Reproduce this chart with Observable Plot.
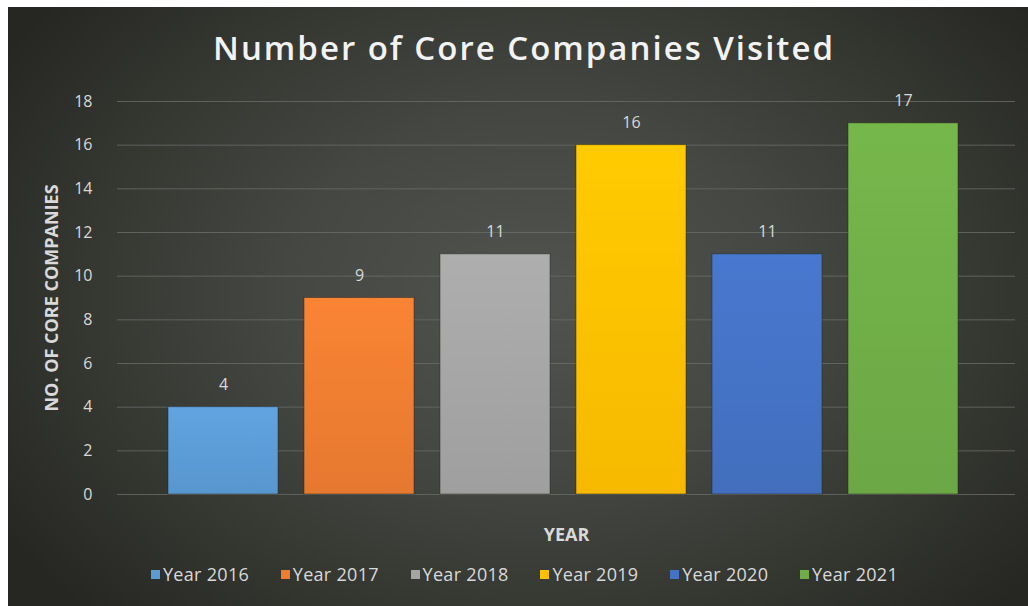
<!DOCTYPE html>
<html>
<head>
<meta charset="utf-8">
<script src="https://cdn.jsdelivr.net/npm/d3@7"></script>
<script src="https://cdn.jsdelivr.net/npm/@observablehq/plot@0.6"></script>
<style>
  html, body { margin: 0; padding: 0; background: #ffffff; width: 1028px; height: 606px; overflow: hidden;
    font-family: "Open Sans", "DejaVu Sans", sans-serif; }
  #frame {
    position: absolute; left: 8px; top: 7px; width: 1020px; height: 599px;
    background: radial-gradient(ellipse 62% 75% at 52% 48%, #51544e 0%, #454842 40%, #33352f 75%, #262723 100%);
  }
  #title {
    position: absolute; left: 10px; top: 25px; width: 1028px; text-align: center;
    color: #f2f2f2; font-size: 33px; font-weight: 600; letter-spacing: 2px;
  }
  #chart { position: absolute; left: 0; top: 0; }
  #legend {
    position: absolute; left: 151px; top: 562px; width: 877px;
    display: flex; justify-content: flex-start;
    color: #d9d9d9; font-size: 18px; letter-spacing: 0.3px;
  }
  .item { display: flex; align-items: center; width: 129.8px; flex: none; }
  .sw { width: 9px; height: 9px; margin-right: 3px; flex: none; }
  svg [aria-label="x-axis label"] text, svg [aria-label="y-axis label"] text { font-weight: bold; font-size: 18px; }
</style>
</head>
<body>
<div id="frame"></div>
<div id="title">Number of Core Companies Visited</div>
<div id="chart"></div>
<div id="legend"></div>
<script>
const years = ["Year 2016", "Year 2017", "Year 2018", "Year 2019", "Year 2020", "Year 2021"];
const counts = [4, 9, 11, 16, 11, 17];
const colors = ["#5b9bd5", "#ed7d31", "#a5a5a5", "#ffc000", "#4472c4", "#70ad47"];
const yTicks = [0, 2, 4, 6, 8, 10, 12, 14, 16, 18];

const data = years.map((y, i) => ({year: y, count: counts[i]}));

const chart = Plot.plot({
  width: 1028,
  height: 560,
  marginTop: 101,
  marginBottom: 66,
  marginLeft: 117,
  marginRight: 13,
  style: {background: "transparent", fontFamily: "'Open Sans', sans-serif", fontSize: "16px", color: "#d9d9d9"},
  x: {domain: years, range: [167, 958], paddingInner: 0.1924, paddingOuter: 0},
  y: {domain: [0, 18]},
  color: {domain: years, range: colors},
  marks: [
    Plot.gridY(yTicks, {stroke: "#6a6c66", strokeOpacity: 0.8, strokeWidth: 1}),
    Plot.axisY({ticks: yTicks, tickSize: 0, tickPadding: 25, fill: "#d9d9d9", fontSize: 16,
      label: "NO. OF CORE COMPANIES", labelAnchor: "center", labelArrow: "none", labelOffset: 72}),
    Plot.axisX({ticks: [], label: "YEAR", labelAnchor: "center", labelArrow: "none", labelOffset: 46, fill: "#d9d9d9", fontSize: 16}),
    Plot.barY(data, {x: "year", y: "count", fill: "year", stroke: "#1e1f1c", strokeOpacity: 0.45, strokeWidth: 1}),
    Plot.text(data, {x: "year", y: "count", text: d => String(d.count), dy: -22, fill: "#d9d9d9", fontSize: 16})
  ]
});

// vertical gradients for bars
const svg = d3.select(chart);
const defs = svg.insert("defs", ":first-child");
colors.forEach((c, i) => {
  const g = defs.append("linearGradient").attr("id", "bg" + i).attr("x1", 0).attr("y1", 0).attr("x2", 0).attr("y2", 1);
  g.append("stop").attr("offset", "0%").attr("stop-color", d3.color(c).brighter(0.15));
  g.append("stop").attr("offset", "100%").attr("stop-color", d3.color(c).darker(0.1));
});
svg.selectAll("g[aria-label='bar'] rect").each(function() {
  const f = d3.color(this.getAttribute("fill"));
  const idx = colors.findIndex(c => d3.color(c).formatHex() === f.formatHex());
  if (idx >= 0) this.setAttribute("fill", `url(#bg${idx})`);
});

document.getElementById("chart").appendChild(chart);

const legend = document.getElementById("legend");
years.forEach((y, i) => {
  const it = document.createElement("div");
  it.className = "item";
  it.innerHTML = `<span class="sw" style="background:${colors[i]}"></span><span>${y}</span>`;
  legend.appendChild(it);
});
</script>
</body>
</html>
